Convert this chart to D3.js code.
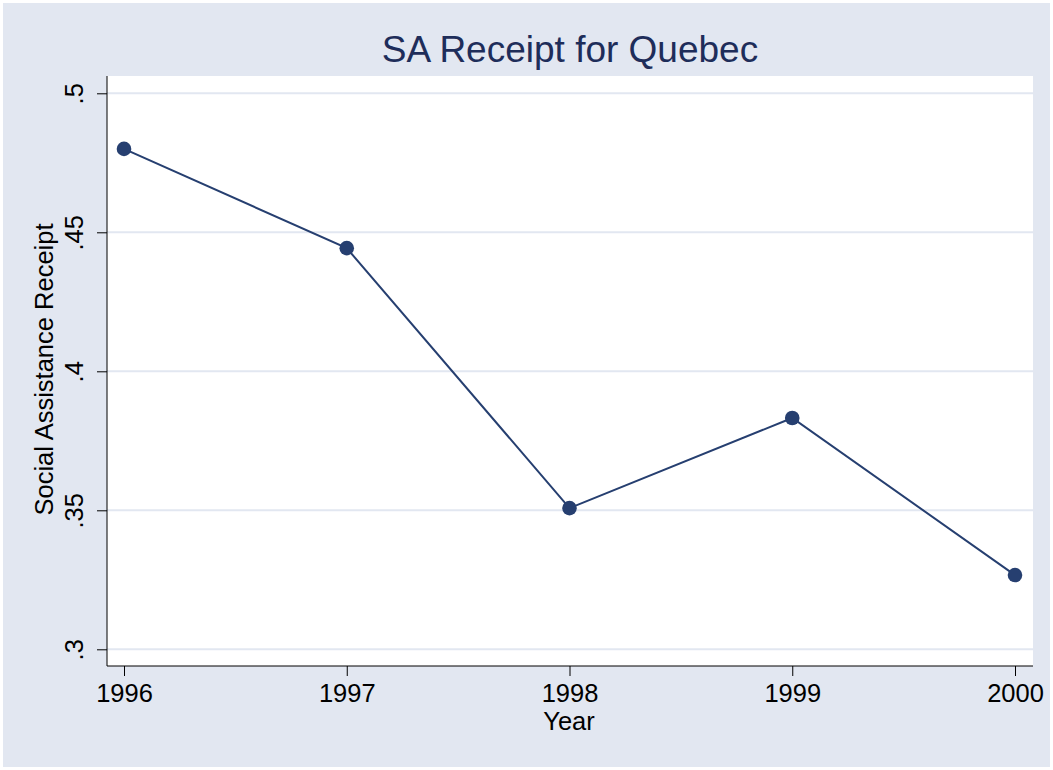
<!DOCTYPE html>
<html>
<head>
<meta charset="utf-8">
<script src="https://cdn.jsdelivr.net/npm/d3@7"></script>
<style>
    body { margin: 0; background: #ffffff; }
    text { font-family: Arial, "Liberation Sans", sans-serif; }
</style>
</head>
<body>
<div id="chart"></div>
<script>
var years = [1996, 1997, 1998, 1999, 2000];
var receipt = [0.480, 0.4443, 0.3508, 0.3832, 0.3267];
var yTicks = [0.3, 0.35, 0.4, 0.45, 0.5];
var yTickLabels = ['.3', '.35', '.4', '.45', '.5'];

var width = 1053;
var height = 770;
var plot = { left: 107, top: 76, right: 1033, bottom: 666 };

var navy = '#263f70';
var bg = '#e2e7f1';
var labelSize = 25.5;

var svg = d3.select('#chart').append('svg')
    .attr('width', width)
    .attr('height', height);

svg.append('rect')
    .attr('x', 3).attr('y', 3)
    .attr('width', width - 6).attr('height', height - 6)
    .attr('fill', bg);

svg.append('rect')
    .attr('x', plot.left).attr('y', plot.top)
    .attr('width', plot.right - plot.left)
    .attr('height', plot.bottom - plot.top)
    .attr('fill', '#ffffff');

var x = d3.scaleLinear().domain([1996, 2000]).range([124, 1015]);
var y = d3.scaleLinear().domain([0.3, 0.5]).range([649.3, 93.3]);

// gridlines
svg.append('g').selectAll('line').data(yTicks).enter()
    .append('line')
    .attr('x1', plot.left).attr('x2', plot.right)
    .attr('y1', function(d) { return y(d); })
    .attr('y2', function(d) { return y(d); })
    .attr('stroke', bg)
    .attr('stroke-width', 2);

// y axis
var yAxis = svg.append('g')
    .attr('transform', 'translate(' + plot.left + ',0)')
    .call(d3.axisLeft(y).tickValues(yTicks).tickSize(10)
        .tickFormat(function(d, i) { return yTickLabels[i]; }));
yAxis.select('.domain').attr('d', 'M0,' + plot.top + 'V' + plot.bottom).attr('stroke', '#000');
yAxis.selectAll('.tick line').attr('stroke', '#000');
yAxis.selectAll('.tick text')
    .attr('font-size', labelSize)
    .attr('fill', '#000')
    .attr('x', null).attr('dy', null)
    .attr('text-anchor', 'middle')
    .attr('transform', 'translate(-24.5,0) rotate(-90)');

// x axis
var xAxis = svg.append('g')
    .attr('transform', 'translate(0,' + plot.bottom + ')')
    .call(d3.axisBottom(x).tickValues(years).tickSize(10).tickFormat(d3.format('d')));
xAxis.select('.domain').attr('d', 'M' + plot.left + ',0H' + plot.right).attr('stroke', '#000');
xAxis.selectAll('.tick line').attr('stroke', '#000');
xAxis.selectAll('.tick text')
    .attr('font-size', labelSize)
    .attr('fill', '#000')
    .attr('dy', null)
    .attr('y', 35.5);

// line
var line = d3.line()
    .x(function(d, i) { return x(years[i]); })
    .y(function(d) { return y(d); });

svg.append('path')
    .datum(receipt)
    .attr('d', line)
    .attr('fill', 'none')
    .attr('stroke', navy)
    .attr('stroke-width', 2);

svg.append('g').selectAll('circle').data(receipt).enter()
    .append('circle')
    .attr('cx', function(d, i) { return x(years[i]); })
    .attr('cy', function(d) { return y(d); })
    .attr('r', 7.3)
    .attr('fill', navy);

// titles
svg.append('text')
    .attr('x', 570).attr('y', 62)
    .attr('text-anchor', 'middle')
    .attr('font-size', 37)
    .attr('fill', '#1e2d5a')
    .text('SA Receipt for Quebec');

svg.append('text')
    .attr('x', 569).attr('y', 730)
    .attr('text-anchor', 'middle')
    .attr('font-size', labelSize)
    .attr('fill', '#000')
    .text('Year');

svg.append('text')
    .attr('transform', 'translate(53,369.5) rotate(-90)')
    .attr('text-anchor', 'middle')
    .attr('font-size', labelSize)
    .attr('fill', '#000')
    .text('Social Assistance Receipt');
</script>
</body>
</html>
